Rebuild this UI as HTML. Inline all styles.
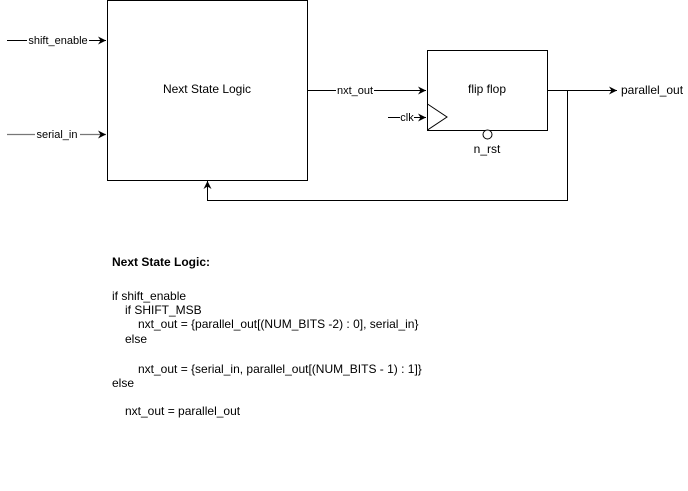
<!DOCTYPE html>
<html><head><style>
body{margin:0;background:#fff;}
svg{display:block;font-family:"Liberation Sans",Arial,sans-serif;}
</style></head><body>
<svg width="688" height="491" viewBox="0 0 688 491" xmlns="http://www.w3.org/2000/svg">
<defs><marker id="a" markerWidth="10" markerHeight="10" refX="8" refY="4.5" orient="auto" markerUnits="userSpaceOnUse"><path d="M0,0.5 L8,4.5 L0,8.5 L2.5,4.5 Z" fill="#000"/></marker></defs>
<rect x="107.5" y="0.5" width="200" height="180" fill="#fff" stroke="#000"/>
<text x="207" y="93" font-size="12" text-anchor="middle">Next State Logic</text>
<line x1="7" y1="40.5" x2="106" y2="40.5" stroke="#000" marker-end="url(#a)"/>
<rect x="27" y="34" width="62" height="12" fill="#fff"/>
<text x="58" y="44" font-size="11" text-anchor="middle">shift_enable</text>
<line x1="7" y1="134.5" x2="106" y2="134.5" stroke="#777" stroke-width="1.3" marker-end="url(#a)"/>
<rect x="35" y="128" width="45" height="12" fill="#fff"/>
<text x="57" y="138" font-size="11" text-anchor="middle">serial_in</text>
<line x1="307" y1="90.5" x2="426" y2="90.5" stroke="#000" marker-end="url(#a)"/>
<rect x="336" y="84" width="38" height="12" fill="#fff"/>
<text x="355" y="94" font-size="11" text-anchor="middle">nxt_out</text>
<rect x="427.5" y="50.5" width="120" height="80" fill="#fff" stroke="#000"/>
<text x="487" y="93" font-size="12" text-anchor="middle">flip flop</text>
<path d="M427.5,104 L447,117 L427.5,130" fill="none" stroke="#000"/>
<line x1="388" y1="117.5" x2="426" y2="117.5" stroke="#000" marker-end="url(#a)"/>
<rect x="400" y="111" width="14" height="12" fill="#fff"/>
<text x="407" y="121" font-size="11" text-anchor="middle">clk</text>
<circle cx="487.5" cy="134.5" r="4.5" fill="#fff" stroke="#000"/>
<text x="487" y="153" font-size="12" text-anchor="middle">n_rst</text>
<line x1="547" y1="90.5" x2="617" y2="90.5" stroke="#000" marker-end="url(#a)"/>
<text x="621" y="94" font-size="12">parallel_out</text>
<path d="M567.5,90.5 L567.5,200.5 L207.5,200.5 L207.5,181" fill="none" stroke="#000" marker-end="url(#a)"/>
<g font-size="12">
<text x="112" y="266" font-weight="bold">Next State Logic:</text>
<text x="112" y="300">if shift_enable</text>
<text x="125" y="314">if SHIFT_MSB</text>
<text x="138" y="328">nxt_out = {parallel_out[(NUM_BITS -2) : 0], serial_in}</text>
<text x="125" y="343">else</text>
<text x="138" y="373">nxt_out = {serial_in, parallel_out[(NUM_BITS - 1) : 1]}</text>
<text x="112" y="387">else</text>
<text x="125" y="415">nxt_out = parallel_out</text>
</g>
</svg>
</body></html>
